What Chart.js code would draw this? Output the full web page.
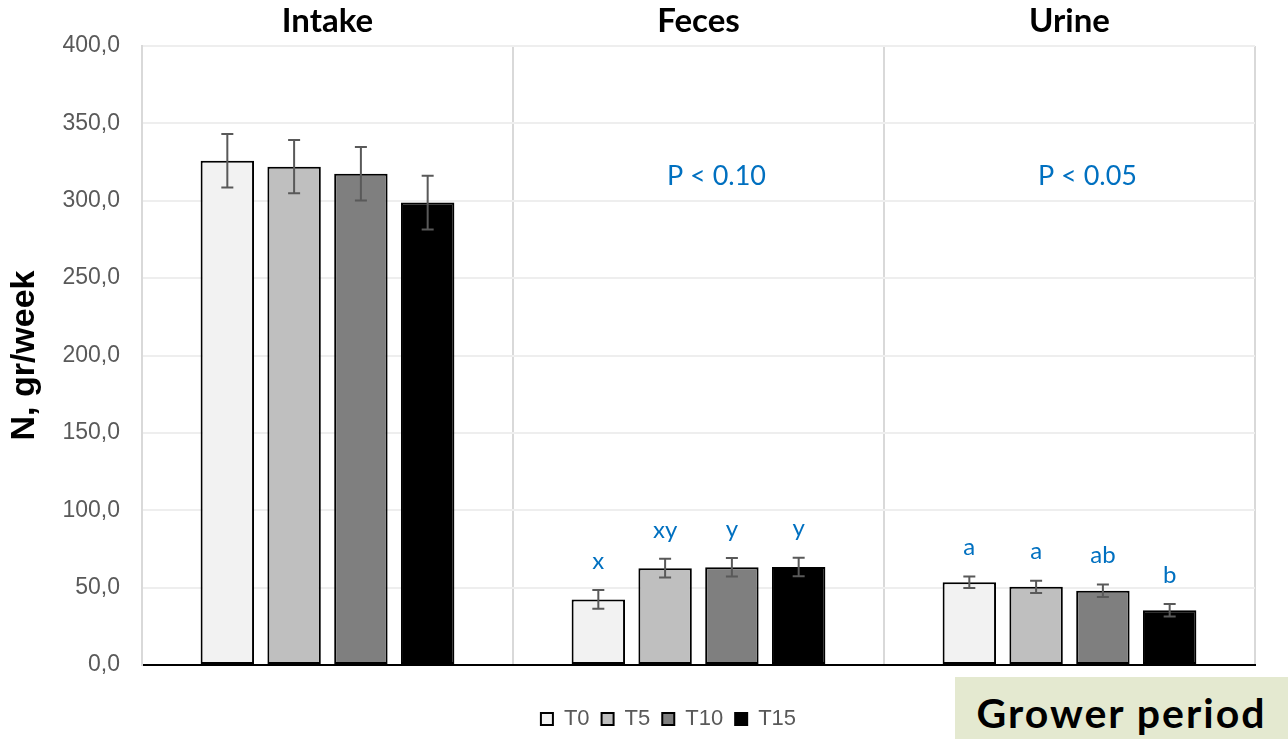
<!DOCTYPE html>
<html>
<head>
<meta charset="utf-8">
<script src="https://cdn.jsdelivr.net/npm/chart.js@4.4.1/dist/chart.umd.min.js"></script>
<style>
  body { margin: 0; background: #fff; }
  #wrap { position: relative; width: 1288px; height: 739px; }
  #period {
    position: absolute; left: 955px; top: 677px; width: 333px; height: 62px;
    background: #e4e9d0; font: bold 41px Lato, sans-serif; letter-spacing: 2px;
    color: #000; display: flex; align-items: center; justify-content: center;
    padding-top: 9px; box-sizing: border-box; white-space: nowrap;
  }
</style>
</head>
<body>
<div id="wrap">
  <canvas id="nChart" width="1288" height="739"></canvas>
  <div id="period">Grower period</div>
</div>
<script>
// Nitrogen balance, grower period
const categories = ['Intake', 'Feces', 'Urine'];
const seriesNames = ['T0', 'T5', 'T10', 'T15'];
const t0 = [325.9, 42.4, 53.5];
const t5 = [322.0, 62.6, 50.5];
const t10 = [317.5, 63.2, 48.0];
const t15 = [298.8, 63.3, 35.4];
const t0Err = [17.3, 6.0, 3.7];
const t5Err = [17.2, 6.0, 4.0];
const t10Err = [17.3, 6.0, 4.0];
const t15Err = [17.4, 6.0, 4.0];
const t0Letters = ['', 'x', 'a'];
const t5Letters = ['', 'xy', 'a'];
const t10Letters = ['', 'y', 'ab'];
const t15Letters = ['', 'y', 'b'];
const pLabels = ['', 'P < 0.10', 'P < 0.05'];
const pLevel = 316;
const yTicks = [0, 50, 100, 150, 200, 250, 300, 350, 400];

const fills = ['#f2f2f2', '#bfbfbf', '#7f7f7f', '#000000'];
const values = [t0, t5, t10, t15];
const errors = [t0Err, t5Err, t10Err, t15Err];
const letters = [t0Letters, t5Letters, t10Letters, t15Letters];

const extras = {
  id: 'extras',
  afterLayout(chart) {
    // legend sits a bit right of centre in the original
    const lg = chart.legend;
    lg.left += 41; lg.right += 41;
    lg.top += 1; lg.bottom += 1;
  },
  afterDatasetsDraw(chart) {
    const { ctx, scales: { x, y } } = chart;
    ctx.save();
    chart.data.datasets.forEach((ds, i) => {
      const meta = chart.getDatasetMeta(i);
      meta.data.forEach((bar, j) => {
        const v = ds.data[j], e = errors[i][j];
        const top = y.getPixelForValue(v + e);
        const bot = y.getPixelForValue(v - e);
        ctx.strokeStyle = '#595959';
        ctx.lineWidth = 2;
        ctx.beginPath();
        ctx.moveTo(bar.x, top); ctx.lineTo(bar.x, bot);
        ctx.moveTo(bar.x - 6, top); ctx.lineTo(bar.x + 6, top);
        ctx.moveTo(bar.x - 6, bot); ctx.lineTo(bar.x + 6, bot);
        ctx.stroke();
        const lt = letters[i][j];
        if (lt) {
          ctx.fillStyle = '#0070c0';
          ctx.font = '24px Lato';
          ctx.textAlign = 'center';
          ctx.textBaseline = 'middle';
          ctx.fillText(lt, bar.x, top - 29);
        }
      });
    });
    pLabels.forEach((p, j) => {
      if (!p) return;
      ctx.fillStyle = '#0070c0';
      ctx.font = '27px Lato';
      ctx.textAlign = 'center';
      ctx.textBaseline = 'middle';
      ctx.fillText(p, x.getPixelForValue(j) + 18, y.getPixelForValue(pLevel));
    });
    ctx.restore();
  }
};

new Chart(document.getElementById('nChart'), {
  type: 'bar',
  data: {
    labels: categories,
    datasets: seriesNames.map((name, i) => ({
      label: name,
      data: values[i],
      backgroundColor: fills[i],
      borderColor: '#000',
      borderWidth: 2,
      borderSkipped: false,
      barPercentage: 0.8,
      categoryPercentage: 0.72
    }))
  },
  options: {
    responsive: false,
    animation: false,
    layout: { padding: { left: 0, right: 33, top: 0, bottom: 0 } },
    plugins: {
      legend: {
        position: 'bottom',
        labels: {
          boxWidth: 12, boxHeight: 12, padding: 12,
          color: '#595959',
          font: { family: 'Liberation Sans', size: 22 }
        }
      },
      tooltip: { enabled: false }
    },
    scales: {
      x: {
        position: 'top',
        border: { display: false },
        grid: { color: '#d9d9d9', lineWidth: 2, drawTicks: false },
        ticks: { color: '#000', padding: 5, font: { family: 'Lato', size: 33, weight: 'bold' } },
        afterFit: s => { s.height = 46; }
      },
      x2: {
        type: 'category',
        labels: categories,
        position: 'bottom',
        grid: { display: false },
        border: { color: '#000', width: 2 },
        ticks: { display: false },
        afterFit: s => { s.height = Math.max(0, s.chart.height - 665 - s.chart.legend.height); }
      },
      y: {
        min: 0, max: 400,
        afterBuildTicks: s => { s.ticks = yTicks.map(v => ({ value: v })); },
        border: { color: '#d9d9d9', width: 2 },
        grid: { color: '#eeeeee', lineWidth: 2, drawTicks: false },
        ticks: {
          color: '#595959', padding: 22,
          font: { family: 'Liberation Sans', size: 23 },
          callback: v => v.toFixed(1).replace('.', ',')
        },
        title: {
          display: true, text: 'N, gr/week', color: '#000',
          font: { family: 'Liberation Sans', size: 34, weight: 'bold' },
          padding: { top: 4, bottom: 0 }
        },
        afterFit: s => { s.width = 142; }
      }
    }
  },
  plugins: [extras]
});
</script>
</body>
</html>
